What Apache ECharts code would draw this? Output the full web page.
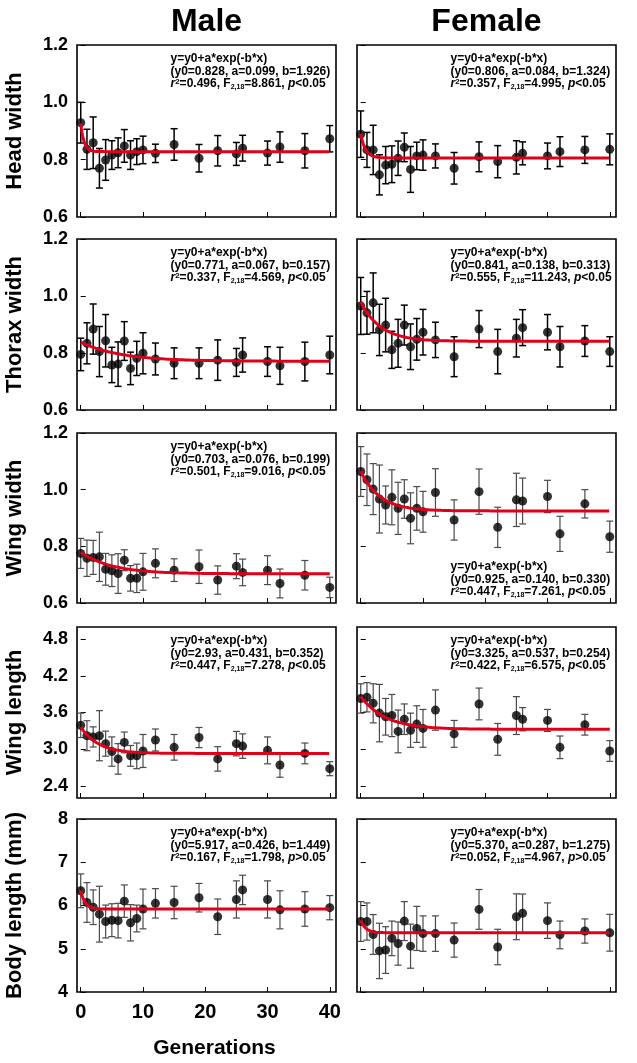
<!DOCTYPE html>
<html><head><meta charset="utf-8">
<script src="https://cdn.jsdelivr.net/npm/echarts@6/dist/echarts.min.js"></script>
<style>html,body{margin:0;padding:0;background:#fff}#c{width:637px;height:1063px}</style>
</head><body><div id="c"></div>
<script>
// ---------- DATA ----------
const generations = [0,1,2,3,4,5,6,7,8,9,10,12,15,19,22,25,26,30,32,36,40];
const columnTitles = ['Male','Female'];
const rowNames = ['Head width','Thorax width','Wing width','Wing length','Body length (mm)'];
const xTicks = [0,10,20,30,40];
const yTicksSmall = [0.6,0.8,1.0,1.2];
const yTicksWingLength = [2.4,3.0,3.6,4.2,4.8];
const yTicksBody = [4,5,6,7,8];

const headMale     = [0.929,0.836,0.859,0.770,0.799,0.816,0.824,0.848,0.816,0.828,0.834,0.822,0.853,0.805,0.831,0.820,0.840,0.823,0.844,0.831,0.873];
const headMaleSE   = [0.071,0.070,0.090,0.069,0.071,0.050,0.052,0.057,0.050,0.045,0.048,0.032,0.055,0.048,0.053,0.040,0.045,0.042,0.053,0.060,0.046];
const headFemale   = [0.889,0.834,0.834,0.747,0.781,0.784,0.805,0.843,0.766,0.813,0.816,0.813,0.770,0.810,0.793,0.808,0.822,0.813,0.828,0.834,0.836];
const headFemaleSE = [0.081,0.061,0.086,0.070,0.065,0.064,0.060,0.050,0.080,0.048,0.053,0.042,0.055,0.052,0.056,0.058,0.040,0.045,0.052,0.047,0.054];

const thoraxMale     = [0.795,0.834,0.884,0.805,0.843,0.758,0.761,0.842,0.746,0.781,0.799,0.779,0.764,0.764,0.775,0.767,0.793,0.770,0.755,0.770,0.793];
const thoraxMaleSE   = [0.057,0.072,0.088,0.088,0.092,0.062,0.078,0.068,0.057,0.060,0.072,0.056,0.054,0.054,0.071,0.049,0.060,0.052,0.065,0.068,0.066];
const thoraxFemale   = [0.965,0.941,0.976,0.881,0.898,0.811,0.834,0.898,0.822,0.848,0.873,0.846,0.787,0.884,0.805,0.852,0.889,0.873,0.822,0.842,0.805];
const thoraxFemaleSE = [0.100,0.075,0.105,0.090,0.094,0.065,0.084,0.070,0.080,0.073,0.080,0.062,0.070,0.065,0.078,0.066,0.063,0.062,0.071,0.054,0.052];

const wingWidthMale     = [0.775,0.758,0.761,0.763,0.719,0.714,0.704,0.751,0.687,0.687,0.710,0.740,0.716,0.728,0.681,0.730,0.708,0.716,0.669,0.698,0.655];
const wingWidthMaleSE   = [0.053,0.064,0.060,0.087,0.056,0.056,0.070,0.037,0.045,0.050,0.065,0.051,0.040,0.059,0.050,0.044,0.047,0.051,0.051,0.052,0.036];
const wingWidthFemale   = [1.064,1.035,1.002,0.967,0.946,0.973,0.934,0.967,0.899,0.934,0.922,0.990,0.893,0.993,0.867,0.964,0.960,0.976,0.844,0.950,0.834];
const wingWidthFemaleSE = [0.088,0.091,0.090,0.120,0.067,0.097,0.092,0.068,0.090,0.077,0.072,0.084,0.071,0.080,0.071,0.094,0.081,0.057,0.062,0.050,0.055];

const wingLengthMale     = [3.39,3.22,3.20,3.22,3.09,2.96,2.84,3.11,2.89,2.89,2.97,3.15,3.03,3.19,2.84,3.09,3.05,2.98,2.74,2.93,2.68];
const wingLengthMaleSE   = [0.20,0.245,0.165,0.41,0.205,0.24,0.25,0.17,0.17,0.21,0.27,0.18,0.21,0.165,0.20,0.20,0.20,0.22,0.20,0.17,0.115];
const wingLengthFemale   = [3.83,3.85,3.75,3.59,3.53,3.55,3.29,3.49,3.31,3.41,3.34,3.64,3.25,3.74,3.16,3.55,3.49,3.47,3.03,3.40,2.97];
const wingLengthFemaleSE = [0.24,0.24,0.32,0.47,0.30,0.345,0.35,0.25,0.28,0.30,0.31,0.33,0.22,0.26,0.26,0.31,0.19,0.18,0.185,0.17,0.17];

const bodyMale     = [6.34,6.07,5.96,5.80,5.63,5.66,5.65,6.10,5.60,5.70,5.92,6.05,6.07,6.18,5.74,6.14,6.36,6.14,5.90,5.92,5.95];
const bodyMaleSE   = [0.39,0.46,0.40,0.645,0.38,0.38,0.40,0.375,0.42,0.31,0.46,0.34,0.375,0.33,0.41,0.43,0.34,0.43,0.44,0.40,0.28];
const bodyFemale   = [5.63,5.63,5.33,4.95,4.97,5.24,5.12,5.64,5.06,5.47,5.35,5.35,5.20,5.91,5.04,5.74,5.82,5.65,5.32,5.41,5.37];
const bodyFemaleSE = [0.46,0.43,0.46,0.64,0.54,0.40,0.50,0.45,0.51,0.51,0.41,0.41,0.395,0.46,0.41,0.53,0.445,0.41,0.32,0.28,0.425];

// fitted model y = y0 + a*exp(-b*x), parameters as printed in each panel
const fitY0 = ['0.828','0.806','0.771','0.841','0.703','0.925','2.93','3.325','5.917','5.370'];
const fitA  = ['0.099','0.084','0.067','0.138','0.076','0.140','0.431','0.537','0.426','0.287'];
const fitB  = ['1.926','1.324','0.157','0.313','0.199','0.330','0.352','0.254','1.449','1.275'];
const fitR2 = ['0.496','0.357','0.337','0.555','0.501','0.447','0.447','0.422','0.167','0.052'];
const fitF  = ['8.861','4.995','4.569','11.243','9.016','7.261','7.278','6.575','1.798','4.967'];
const fitP  = ['<0.05','<0.05','<0.05','<0.05','<0.05','<0.05','<0.05','<0.05','>0.05','>0.05'];

// ---------- LAYOUT ----------
const panels = [
  [headMale, headMaleSE], [headFemale, headFemaleSE],
  [thoraxMale, thoraxMaleSE], [thoraxFemale, thoraxFemaleSE],
  [wingWidthMale, wingWidthMaleSE], [wingWidthFemale, wingWidthFemaleSE],
  [wingLengthMale, wingLengthMaleSE], [wingLengthFemale, wingLengthFemaleSE],
  [bodyMale, bodyMaleSE], [bodyFemale, bodyFemaleSE]
];
const rowBox = [[45,172],[239,171],[433,170],[627,171],[819,173]];
const colLeft = [77, 357];
const gridW = 259;
const yRange = [[0.6,1.2,yTicksSmall],[0.6,1.2,yTicksSmall],[0.6,1.2,yTicksSmall],[2.2,5.0,yTicksWingLength],[4,8,yTicksBody]];
const FONT = "'Liberation Sans', Arial, Helvetica, sans-serif";

const grids=[], xAxes=[], yAxes=[], series=[], graphics=[];

panels.forEach((p, i) => {
  const row = Math.floor(i/2), col = i%2;
  const gl = colLeft[col], gt = rowBox[row][0], gh = rowBox[row][1];
  grids.push({left: gl, top: gt, width: gridW, height: gh, show: true, borderColor: '#000', borderWidth: 1.6, backgroundColor: 'transparent'});
  xAxes.push({
    gridIndex: i, type: 'value', min: -0.6, max: 41,
    axisLine: {show: false}, splitLine: {show: false},
    axisTick: {show: true, inside: true, length: 5, customValues: xTicks, lineStyle: {color: '#000', width: 1}},
    axisLabel: {show: i === 8, customValues: xTicks, fontSize: 20, fontWeight: 'bold', fontFamily: FONT, color: '#000', margin: 10}
  });
  const yr = yRange[row];
  yAxes.push({
    gridIndex: i, type: 'value', min: yr[0], max: yr[1],
    axisLine: {show: false}, splitLine: {show: false},
    axisTick: {show: true, inside: true, length: 5, customValues: yr[2], lineStyle: {color: '#000', width: 1}},
    axisLabel: {show: col === 0, customValues: yr[2], fontSize: 18, fontWeight: 'bold', fontFamily: FONT, color: '#000', margin: 9,
      formatter: v => row === 4 ? String(Math.round(v)) : Number(v).toFixed(1)}
  });
  const vals = p[0], se = p[1];
  const barColor = row < 2 ? '#000' : '#4a4a4a';
  const barWidth = row < 2 ? 1.5 : 1.2;
  series.push({
    type: 'custom', xAxisIndex: i, yAxisIndex: i, z: 2, silent: true,
    data: generations.map((g, k) => [g, vals[k], se[k]]),
    renderItem: (params, api) => {
      const x = api.value(0), y = api.value(1), e = api.value(2);
      const t = api.coord([x, y + e]), b = api.coord([x, y - e]);
      const w = 3.5;
      const st = {stroke: barColor, lineWidth: barWidth};
      return {type: 'group', children: [
        {type: 'line', shape: {x1: t[0], y1: t[1], x2: b[0], y2: b[1]}, style: st},
        {type: 'line', shape: {x1: t[0]-w, y1: t[1], x2: t[0]+w, y2: t[1]}, style: st},
        {type: 'line', shape: {x1: b[0]-w, y1: b[1], x2: b[0]+w, y2: b[1]}, style: st}
      ]};
    }
  });
  series.push({
    type: 'scatter', xAxisIndex: i, yAxisIndex: i, z: 3, silent: true,
    symbol: 'circle', symbolSize: 9, itemStyle: {color: '#000'},
    data: generations.map((g, k) => [g, vals[k]])
  });
  const y0 = parseFloat(fitY0[i]), a = parseFloat(fitA[i]), b = parseFloat(fitB[i]);
  const curve = [];
  for (let k = 0; k <= 400; k++) { const x = k/10; curve.push([x, y0 + a*Math.exp(-b*x)]); }
  series.push({
    type: 'line', xAxisIndex: i, yAxisIndex: i, z: 4, silent: true,
    showSymbol: false, symbol: 'none', data: curve,
    lineStyle: {color: '#e0001a', width: 3}
  });
  const txt = 'y=y0+a*exp(-b*x)\n(y0=' + fitY0[i] + ', a=' + fitA[i] + ', b=' + fitB[i] + ')\n' +
    '{i|r}{sup|2}=' + fitR2[i] + ', F{sub|2,18}=' + fitF[i] + ', {i|p}' + fitP[i];
  const atBottom = (i === 5);
  graphics.push({
    type: 'text', x: gl + 93.5, y: atBottom ? gt + 127 : gt + 7, z: 10,
    style: {
      text: txt, fill: '#000', fontFamily: FONT, fontSize: 12, fontWeight: 'bold', lineHeight: 12.8,
      rich: {
        i: {fontFamily: FONT, fontSize: 12, fontWeight: 'bold', fontStyle: 'italic', fill: '#000', lineHeight: 12.8},
        sup: {fontFamily: FONT, fontSize: 8, fontWeight: 'bold', fill: '#000', verticalAlign: 'top', lineHeight: 6},
        sub: {fontFamily: FONT, fontSize: 7, fontWeight: 'bold', fill: '#000', verticalAlign: 'bottom', lineHeight: 7}
      }
    }
  });
});

// column titles
columnTitles.forEach((t, c) => {
  graphics.push({type: 'text', x: colLeft[c] + gridW/2, y: 22, style: {text: t, align: 'center', verticalAlign: 'middle', fontFamily: FONT, fontSize: 32, fontWeight: 'bold', fill: '#000'}});
});
// row names
rowNames.forEach((t, r) => {
  graphics.push({type: 'text', x: 15, y: rowBox[r][0] + rowBox[r][1]/2, rotation: Math.PI/2,
    style: {text: t, align: 'center', verticalAlign: 'middle', fontFamily: FONT, fontSize: 22, fontWeight: 'bold', fill: '#000'}});
});
// x axis name
graphics.push({type: 'text', x: colLeft[0] + gridW/2 + 8, y: 1048, style: {text: 'Generations', align: 'center', verticalAlign: 'middle', fontFamily: FONT, fontSize: 21, fontWeight: 'bold', fill: '#000'}});

const chart = echarts.init(document.getElementById('c'), null, {renderer: 'canvas'});
chart.setOption({
  backgroundColor: '#fff', animation: false,
  grid: grids, xAxis: xAxes, yAxis: yAxes, series: series, graphic: graphics
});
</script></body></html>
